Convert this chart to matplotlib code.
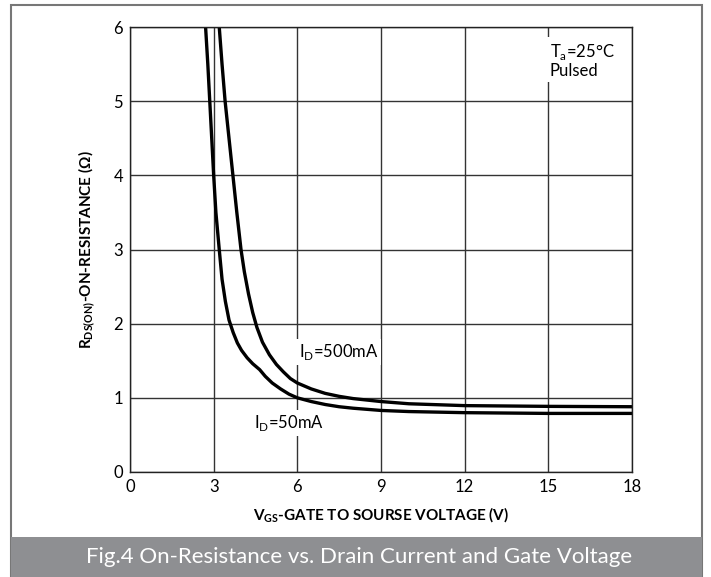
import numpy as np
import matplotlib.pyplot as plt
from matplotlib.patches import Rectangle

plt.rcParams['font.family'] = ['Lato', 'DejaVu Sans']
plt.rcParams['mathtext.fontset'] = 'custom'
plt.rcParams['mathtext.rm'] = 'Lato'
plt.rcParams['mathtext.bf'] = 'Lato:bold'

# Curve points (VGS in V, RDS(on) in ohm)
vgs_50ma = [2.71, 2.79, 2.86, 2.93, 3.0, 3.08, 3.2, 3.3, 3.42, 3.55, 3.7, 3.85, 4.0, 4.2, 4.4,
            4.65, 4.85, 5.1, 5.4, 5.7, 6.0, 6.5, 7.0, 7.5, 8.0, 9.0, 10.0, 12.0, 15.0, 18.0]
rds_50ma = [6.0, 5.5, 5.0, 4.5, 4.0, 3.5, 3.0, 2.6, 2.3, 2.05, 1.88, 1.74, 1.64, 1.54, 1.46,
            1.38, 1.29, 1.2, 1.12, 1.05, 1.0, 0.95, 0.91, 0.88, 0.86, 0.83, 0.815, 0.80, 0.79, 0.79]

vgs_500ma = [3.2, 3.3, 3.41, 3.55, 3.69, 3.83, 3.98, 4.1, 4.25, 4.4, 4.55, 4.75, 5.0, 5.25, 5.5,
             5.75, 6.0, 6.5, 7.0, 7.5, 8.0, 9.0, 10.0, 12.0, 15.0, 18.0]
rds_500ma = [6.0, 5.5, 5.0, 4.5, 4.0, 3.5, 3.0, 2.7, 2.4, 2.15, 1.95, 1.75, 1.58, 1.45, 1.35,
             1.26, 1.2, 1.12, 1.06, 1.02, 0.99, 0.95, 0.92, 0.895, 0.885, 0.88]

x_ticks = [0, 3, 6, 9, 12, 15, 18]
y_ticks = [0, 1, 2, 3, 4, 5, 6]

fig = plt.figure(figsize=(7.11, 5.77), dpi=100)

# outer frame and caption banner
fig.patches.append(Rectangle((11 / 711, 0), 691 / 711, 1 - 5 / 577, transform=fig.transFigure,
                             fill=False, edgecolor='#777777', linewidth=1.5))
fig.patches.append(Rectangle((11 / 711, 0), 691 / 711, 40 / 577, transform=fig.transFigure,
                             facecolor='#8e8f92', edgecolor='none'))
fig.text(359 / 711, 20 / 577, 'Fig.4 On-Resistance vs. Drain Current and Gate Voltage',
         ha='center', va='center', color='white', fontsize=16)

ax = fig.add_axes([130 / 711, 1 - 472 / 577, 502 / 711, 445 / 577])
ax.set_xlim(0, 18)
ax.set_ylim(0, 6)
ax.set_xticks(x_ticks)
ax.set_yticks(y_ticks)
ax.tick_params(length=0, labelsize=12, pad=5)
ax.grid(True, color='#333333', linewidth=1)
ax.set_axisbelow(True)
for s in ax.spines.values():
    s.set_color('#222222')
    s.set_linewidth(1)

ax.plot(vgs_50ma, rds_50ma, color='black', linewidth=2.4, solid_joinstyle='round')
ax.plot(vgs_500ma, rds_500ma, color='black', linewidth=2.4, solid_joinstyle='round')

box = dict(facecolor='white', edgecolor='none', pad=2)
ax.text(15.05, 5.55, 'T$_{\\mathregular{a}}$=25°C\nPulsed', fontsize=12, ha='left', va='center',
        bbox=box, linespacing=1.1)
ax.text(6.05, 1.62, 'I$_{\\mathregular{D}}$=500mA', fontsize=12, ha='left', va='center', bbox=box)
ax.text(4.45, 0.66, 'I$_{\\mathregular{D}}$=50mA', fontsize=12, ha='left', va='center', bbox=box)

ax.set_xlabel('V$_{\\mathregular{GS}}$-GATE TO SOURSE VOLTAGE (V)', fontsize=11, fontweight='bold', labelpad=8)
ax.set_ylabel('R$_{\\mathregular{DS(ON)}}$-ON-RESISTANCE (Ω)', fontsize=11, fontweight='bold', labelpad=11)

fig.savefig('out.png', dpi=100)
